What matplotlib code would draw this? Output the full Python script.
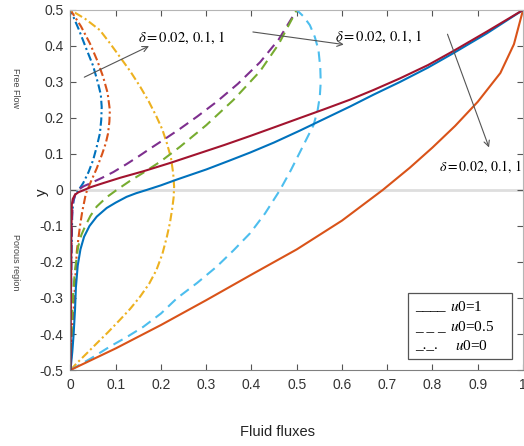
import matplotlib.pyplot as plt
from matplotlib.patches import Rectangle

plt.rcParams['font.family'] = ['Liberation Sans', 'DejaVu Sans']
plt.rcParams['mathtext.fontset'] = 'stix'

# u0 = 1 (solid), delta = 0.02, 0.1, 1
s1_x = [0, 0.001, 0.002, 0.003, 0.005, 0.01, 0.018, 0.028, 0.045, 0.072, 0.11, 0.161, 0.22, 0.28,
        0.34, 0.397, 0.45, 0.507, 0.56, 0.618, 0.67, 0.728, 0.79, 0.846, 0.92, 1.0]
s1_y = [-0.5, -0.3, -0.12, -0.04, -0.025, -0.013, -0.006, -0.001, 0.008, 0.019, 0.034, 0.052, 0.075, 0.1,
        0.125, 0.15, 0.174, 0.2, 0.224, 0.251, 0.278, 0.31, 0.347, 0.386, 0.44, 0.5]
s2_x = [0, 0.004, 0.007, 0.01, 0.012, 0.016, 0.022, 0.03, 0.042, 0.058, 0.08, 0.1, 0.124, 0.145, 0.168,
        0.2, 0.235, 0.3, 0.35, 0.397, 0.45, 0.507, 0.56, 0.618, 0.67, 0.728, 0.79, 0.846, 0.92, 1.0]
s2_y = [-0.5, -0.45, -0.4, -0.333, -0.27, -0.21, -0.165, -0.13, -0.1, -0.074, -0.05, -0.035, -0.019, -0.009, 0.0,
        0.013, 0.029, 0.057, 0.081, 0.104, 0.132, 0.165, 0.197, 0.232, 0.265, 0.3, 0.34, 0.38, 0.435, 0.5]
s3_x = [0, 0.1, 0.2, 0.3, 0.4, 0.5, 0.6, 0.69, 0.75, 0.8, 0.85, 0.9, 0.95, 0.98, 1.0]
s3_y = [-0.5, -0.44, -0.375, -0.306, -0.235, -0.165, -0.085, 0.0, 0.062, 0.118, 0.178, 0.245, 0.325, 0.405, 0.5]

# u0 = 0.5 (dashed)
d1_x = [0, 0.001, 0.002, 0.003, 0.006, 0.012, 0.02, 0.03, 0.043, 0.07, 0.095, 0.124, 0.15, 0.176,
        0.21, 0.242, 0.28, 0.323, 0.37, 0.419, 0.46, 0.5]
d1_y = [-0.5, -0.3, -0.15, -0.08, -0.03, -0.008, 0.003, 0.011, 0.018, 0.034, 0.05, 0.072, 0.093, 0.115,
        0.143, 0.17, 0.204, 0.245, 0.295, 0.355, 0.418, 0.5]
d2_x = [0, 0.002, 0.005, 0.01, 0.017, 0.024, 0.032, 0.044, 0.058, 0.08, 0.102, 0.13, 0.161, 0.2,
        0.242, 0.3, 0.36, 0.419, 0.46, 0.5]
d2_y = [-0.5, -0.42, -0.3, -0.222, -0.157, -0.125, -0.102, -0.072, -0.046, -0.02, 0.0, 0.024, 0.048, 0.08,
        0.12, 0.18, 0.25, 0.33, 0.405, 0.5]
d3_x = [0, 0.045, 0.087, 0.125, 0.161, 0.2, 0.235, 0.28, 0.323, 0.36, 0.397, 0.43, 0.463, 0.487, 0.507,
        0.523, 0.537, 0.546, 0.551, 0.553, 0.552, 0.548, 0.54, 0.529, 0.515, 0.5]
d3_y = [-0.5, -0.468, -0.435, -0.408, -0.38, -0.343, -0.301, -0.258, -0.213, -0.168, -0.12, -0.065, 0.0,
        0.055, 0.105, 0.145, 0.18, 0.22, 0.26, 0.3, 0.34, 0.389, 0.425, 0.458, 0.482, 0.5]

# u0 = 0 (dash-dot)
c1_x = [0, 0.001, 0.002, 0.004, 0.007, 0.01, 0.018, 0.028, 0.04, 0.05, 0.058, 0.065, 0.068, 0.069,
        0.067, 0.061, 0.05, 0.036, 0.018, 0]
c1_y = [-0.5, -0.35, -0.2, -0.06, -0.03, -0.015, 0.0, 0.019, 0.05, 0.083, 0.12, 0.157, 0.195, 0.231,
        0.265, 0.296, 0.345, 0.389, 0.447, 0.5]
c2_x = [0, 0.003, 0.006, 0.01, 0.014, 0.021, 0.026, 0.034, 0.044, 0.058, 0.07, 0.078, 0.083, 0.086,
        0.087, 0.082, 0.072, 0.059, 0.043, 0.023, 0]
c2_y = [-0.5, -0.43, -0.36, -0.26, -0.17, -0.1, -0.06, -0.01, 0.02, 0.06, 0.1, 0.13, 0.157, 0.19,
        0.222, 0.27, 0.315, 0.36, 0.407, 0.455, 0.5]
c3_x = [0, 0.014, 0.035, 0.058, 0.083, 0.109, 0.132, 0.154, 0.174, 0.19, 0.203, 0.213, 0.22, 0.225,
        0.228, 0.229, 0.227, 0.222, 0.213, 0.203, 0.19, 0.173, 0.154, 0.132, 0.109, 0.087, 0.065, 0.033, 0]
c3_y = [-0.5, -0.481, -0.455, -0.426, -0.395, -0.361, -0.33, -0.296, -0.26, -0.222, -0.178, -0.13, -0.09,
        -0.05, -0.02, 0.01, 0.046, 0.09, 0.13, 0.168, 0.204, 0.246, 0.287, 0.33, 0.37, 0.408, 0.444, 0.475, 0.5]

xticks = [0, 0.1, 0.2, 0.3, 0.4, 0.5, 0.6, 0.7, 0.8, 0.9, 1]
xlabels = ['0', '0.1', '0.2', '0.3', '0.4', '0.5', '0.6', '0.7', '0.8', '0.9', '1']
yticks = [-0.5, -0.4, -0.3, -0.2, -0.1, 0, 0.1, 0.2, 0.3, 0.4, 0.5]
ylabels = ['-0.5', '-0.4', '-0.3', '-0.2', '-0.1', '0', '0.1', '0.2', '0.3', '0.4', '0.5']

fig = plt.figure(figsize=(5.24, 4.46), dpi=100)
ax = fig.add_axes([0.1345, 0.1704, 0.8636, 0.8072])
ax.axhline(0, color='#dedede', lw=2, zorder=0)

dash = (5, 3)
dashdot = (4, 1.5, 1, 1.5)
ax.plot(c1_x, c1_y, color='#0072BD', lw=1.5, dashes=dashdot)
ax.plot(c2_x, c2_y, color='#D95319', lw=1.5, dashes=dashdot)
ax.plot(c3_x, c3_y, color='#EDB120', lw=1.5, dashes=dashdot)
ax.plot(d1_x, d1_y, color='#7E2F8E', lw=1.5, dashes=dash)
ax.plot(d2_x, d2_y, color='#77AC30', lw=1.5, dashes=dash)
ax.plot(d3_x, d3_y, color='#4DBEEE', lw=1.5, dashes=dash)
ax.plot(s3_x, s3_y, color='#D95319', lw=1.5)
ax.plot(s2_x, s2_y, color='#0072BD', lw=1.5)
ax.plot(s1_x, s1_y, color='#A2142F', lw=1.5)

ax.set_xlim(0, 1)
ax.set_ylim(-0.5, 0.5)
ax.set_xticks(xticks)
ax.set_xticklabels(xlabels)
ax.set_yticks(yticks)
ax.set_yticklabels(ylabels)
ax.tick_params(direction='in', top=True, right=True, length=4, width=0.8,
               colors='#555555', labelcolor='#333333', labelsize=10)
ax.tick_params(axis='x', pad=6)
ax.tick_params(axis='y', pad=5)
for side in ['left', 'bottom']:
    ax.spines[side].set_color('#808080')
for side in ['top', 'right']:
    ax.spines[side].set_color('#b5b5b5')

# delta annotations
arrow = dict(arrowstyle='->', color='#555555', lw=0.8)
ax.annotate('', xy=(0.179, 0.403), xytext=(0.025, 0.31), arrowprops=arrow)
ax.annotate('', xy=(0.61, 0.403), xytext=(0.397, 0.44), arrowprops=arrow)
ax.annotate('', xy=(0.927, 0.111), xytext=(0.831, 0.44), arrowprops=arrow)
dtxt = r'$\delta = 0.02,\,0.1,\,1$'
ax.text(0.149, 0.422, dtxt, fontsize=10.5, va='center')
ax.text(0.585, 0.426, dtxt, fontsize=10.5, va='center')
ax.text(0.815, 0.065, dtxt, fontsize=10, va='center', clip_on=False)

# labels
fig.text(277 / 524, 1 - 432 / 446, 'Fluid fluxes', fontsize=10.5, color='#222222',
         ha='center', va='center')
fig.text(42 / 524, 1 - 192 / 446, 'y', fontsize=11, color='#222222',
         rotation=90, ha='center', va='center')
fig.text(15 / 524, 1 - 88 / 446, 'Free Flow', fontsize=6.5, color='#444444',
         rotation=-90, ha='center', va='center')
fig.text(15 / 524, 1 - 262 / 446, 'Porous region', fontsize=6.5, color='#444444',
         rotation=-90, ha='center', va='center')

# hand-made legend
fig.patches.append(Rectangle((408 / 524, 1 - 359 / 446), 104 / 524, 66 / 446,
                             transform=fig.transFigure, facecolor='white',
                             edgecolor='#555555', lw=0.9, zorder=5))
leg_marks = ['____', '_ _ _', '_._.']
leg_names = [r'$u$0=1', r'$u$0=0.5', r'$u$0=0']
leg_xs = [450, 450, 455]
leg_ys = [307, 327, 346]
for mark, name, lx, ly in zip(leg_marks, leg_names, leg_xs, leg_ys):
    fig.text(415 / 524, 1 - ly / 446, mark, fontsize=11, family='Liberation Serif',
             va='center', zorder=6)
    fig.text(lx / 524, 1 - ly / 446, name, fontsize=11, family='Liberation Serif',
             va='center', zorder=6)

fig.savefig('out.png', dpi=100)
